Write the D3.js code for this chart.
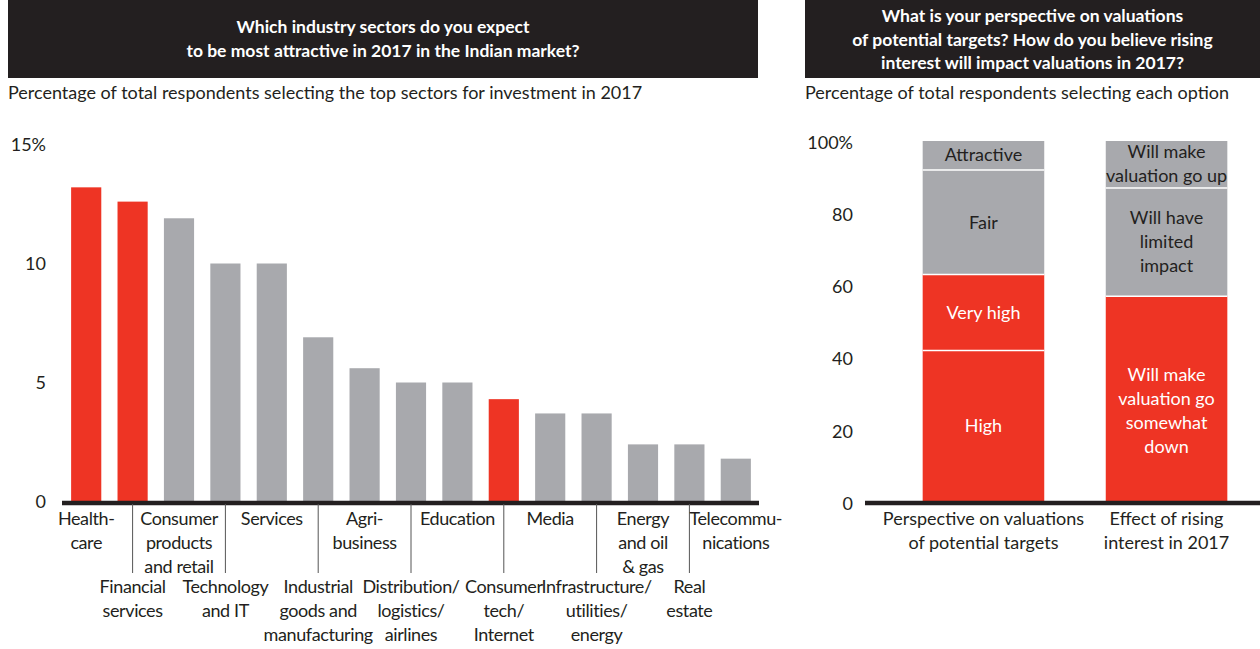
<!DOCTYPE html>
<html>
<head>
<meta charset="utf-8">
<script src="https://cdn.jsdelivr.net/npm/d3@7"></script>
<style>
  html, body { margin: 0; padding: 0; background: #fff; }
  svg text { font-family: Lato, "Open Sans", sans-serif; }
</style>
</head>
<body>
<svg id="chart" width="1260" height="649"></svg>
<script>
// Sector attractiveness (percent of respondents)
const sectors = [
  "Healthcare", "Financial services", "Consumer products and retail", "Technology and IT",
  "Services", "Industrial goods and manufacturing", "Agribusiness",
  "Distribution/logistics/airlines", "Education", "Consumer tech/Internet", "Media",
  "Infrastructure/utilities/energy", "Energy and oil & gas", "Real estate", "Telecommunications"
];
const sectorValues = [13.2, 12.6, 11.9, 10.0, 10.0, 6.9, 5.6, 5.0, 5.0, 4.3, 3.7, 3.7, 2.4, 2.4, 1.8];
const sectorHighlight = [true, true, false, false, false, false, false, false, false, true, false, false, false, false, false];
const sectorLabelLines = [
  ["Health-", "care"], ["Financial", "services"], ["Consumer", "products", "and retail"],
  ["Technology", "and IT"], ["Services"], ["Industrial", "goods and", "manufacturing"],
  ["Agri-", "business"], ["Distribution/", "logistics/", "airlines"], ["Education"],
  ["Consumer", "tech/", "Internet"], ["Media"], ["Infrastructure/", "utilities/", "energy"],
  ["Energy", "and oil", "& gas"], ["Real", "estate"], ["Telecommu-", "nications"]
];
const sectorTicks = [0, 5, 10, 15];

// Valuation views (percent of respondents)
const valuationGroups = ["Perspective on valuations of potential targets", "Effect of rising interest in 2017"];
const valuationGroupLines = [["Perspective on valuations", "of potential targets"], ["Effect of rising", "interest in 2017"]];
const perspectiveSegments = ["High", "Very high", "Fair", "Attractive"];
const perspectiveValues = [42, 21, 29, 8];
const perspectiveLabelLines = [["High"], ["Very high"], ["Fair"], ["Attractive"]];
const effectSegments = ["Will make valuation go somewhat down", "Will have limited impact", "Will make valuation go up"];
const effectValues = [57, 30, 13];
const effectLabelLines = [["Will make", "valuation go", "somewhat", "down"], ["Will have", "limited", "impact"], ["Will make", "valuation go up"]];
const segmentIsRed = [[true, true, false, false], [true, false, false]];
const valuationTicks = [0, 20, 40, 60, 80, 100];

const RED = "#ee3424";
const GREY = "#a8a9ad";
const DARK = "#231f20";
const FS = 18;
const LH = 24;

// vertical nudge (px) of in-bar label blocks, per group and segment
const segmentLabelNudge = [[0, 0, 0, -1], [12, 0, -1]];

const svg = d3.select("#chart");

// ---------- Header boxes ----------
function header(x, w, lines, y0) {
  svg.append("rect").attr("x", x).attr("y", 0).attr("width", w).attr("height", 78).attr("fill", DARK);
  svg.append("g").selectAll("text").data(lines).join("text")
    .attr("x", x + w / 2).attr("y", (d, i) => y0 + i * 23.5)
    .attr("text-anchor", "middle").attr("fill", "#fff")
    .attr("font-size", 17.5).attr("font-weight", 700)
    .text(d => d);
}
header(8, 750, ["Which industry sectors do you expect", "to be most attractive in 2017 in the Indian market?"], 33);
header(805, 455, ["What is your perspective on valuations", "of potential targets? How do you believe rising", "interest will impact valuations in 2017?"], 22);

svg.append("text").attr("x", 8).attr("y", 99).attr("font-size", FS).attr("fill", DARK)
  .text("Percentage of total respondents selecting the top sectors for investment in 2017");
svg.append("text").attr("x", 805).attr("y", 99).attr("font-size", FS).attr("fill", DARK)
  .text("Percentage of total respondents selecting each option");

// ---------- Left: sector bars ----------
const x1 = d3.scaleBand().domain(sectors).range([63, 759]).paddingInner(0.35).paddingOuter(0.175);
const y1 = d3.scaleLinear().domain([0, 15]).range([501.5, 144.5]);

svg.append("g").selectAll("rect").data(sectors).join("rect")
  .attr("x", d => x1(d)).attr("width", x1.bandwidth())
  .attr("y", (d, i) => y1(sectorValues[i]))
  .attr("height", (d, i) => y1(0) - y1(sectorValues[i]))
  .attr("fill", (d, i) => sectorHighlight[i] ? RED : GREY);

const yAxis1 = d3.axisLeft(y1).tickValues(sectorTicks).tickSize(0).tickPadding(0)
  .tickFormat(d => d === 15 ? "15%" : d);
const ya1 = svg.append("g").attr("transform", "translate(46,0)").call(yAxis1);
ya1.select(".domain").remove();
ya1.selectAll("text").attr("font-size", FS).attr("fill", DARK).attr("font-family", "Lato, sans-serif").attr("dy", "0.32em");

svg.append("line").attr("x1", 62).attr("x2", 759).attr("y1", y1(0) + 1.5).attr("y2", y1(0) + 1.5)
  .attr("stroke", DARK).attr("stroke-width", 4.5);

// category labels, alternating rows with leader lines for the lower row
const labG = svg.append("g");
sectors.forEach((s, i) => {
  const cx = x1(s) + x1.bandwidth() / 2;
  const top = i % 2 === 0 ? 525 : 593;
  if (i % 2 === 1) {
    labG.append("line").attr("x1", cx).attr("x2", cx).attr("y1", 504).attr("y2", 573)
      .attr("stroke", "#555").attr("stroke-width", 1);
  }
  labG.append("g").selectAll("text").data(sectorLabelLines[i]).join("text")
    .attr("x", cx).attr("y", (d, k) => top + k * LH)
    .attr("text-anchor", "middle").attr("font-size", FS).attr("fill", DARK)
    .attr("letter-spacing", -0.4)
    .text(d => d);
});

// ---------- Right: stacked valuation bars ----------
const x2 = d3.scaleBand().domain(valuationGroups).range([865, 1285]).paddingInner(0.336).paddingOuter(0.315);
const y2 = d3.scaleLinear().domain([0, 100]).range([502, 141]);

const stacks = [
  { values: perspectiveValues, names: perspectiveSegments, lines: perspectiveLabelLines },
  { values: effectValues, names: effectSegments, lines: effectLabelLines }
];

stacks.forEach((st, g) => {
  const grp = valuationGroups[g];
  const ends = d3.cumsum(st.values);
  const segs = st.values.map((v, k) => ({ lo: ends[k] - v, hi: ends[k], k }));
  const gg = svg.append("g");
  gg.selectAll("rect").data(segs).join("rect")
    .attr("x", x2(grp)).attr("width", x2.bandwidth())
    .attr("y", d => y2(d.hi)).attr("height", d => y2(d.lo) - y2(d.hi))
    .attr("fill", d => segmentIsRed[g][d.k] ? RED : GREY);
  // white separators between segments
  gg.selectAll("line").data(segs.slice(1)).join("line")
    .attr("x1", x2(grp)).attr("x2", x2(grp) + x2.bandwidth())
    .attr("y1", d => y2(d.lo)).attr("y2", d => y2(d.lo))
    .attr("stroke", "#fff").attr("stroke-width", 1.5);
  // segment labels
  segs.forEach(d => {
    const lines = st.lines[d.k];
    const mid = (y2(d.lo) + y2(d.hi)) / 2 + segmentLabelNudge[g][d.k];
    const first = mid - (lines.length - 1) * LH / 2;
    gg.append("g").selectAll("text").data(lines).join("text")
      .attr("x", x2(grp) + x2.bandwidth() / 2)
      .attr("y", (t, j) => first + j * LH).attr("dy", "0.35em")
      .attr("text-anchor", "middle").attr("font-size", FS)
      .attr("fill", segmentIsRed[g][d.k] ? "#fff" : DARK)
      .text(t => t);
  });
  // group label
  svg.append("g").selectAll("text").data(valuationGroupLines[g]).join("text")
    .attr("x", x2(grp) + x2.bandwidth() / 2).attr("y", (t, j) => 525 + j * LH)
    .attr("text-anchor", "middle").attr("font-size", FS).attr("fill", DARK)
    .text(t => t);
});

const yAxis2 = d3.axisLeft(y2).tickValues(valuationTicks).tickSize(0).tickPadding(0)
  .tickFormat(d => d === 100 ? "100%" : d);
const ya2 = svg.append("g").attr("transform", "translate(853,1.5)").call(yAxis2);
ya2.select(".domain").remove();
ya2.selectAll("text").attr("font-size", FS).attr("fill", DARK).attr("font-family", "Lato, sans-serif").attr("dy", "0.32em");

svg.append("line").attr("x1", 865).attr("x2", 1260).attr("y1", y2(0) + 1).attr("y2", y2(0) + 1)
  .attr("stroke", DARK).attr("stroke-width", 4.5);
</script>
</body>
</html>
